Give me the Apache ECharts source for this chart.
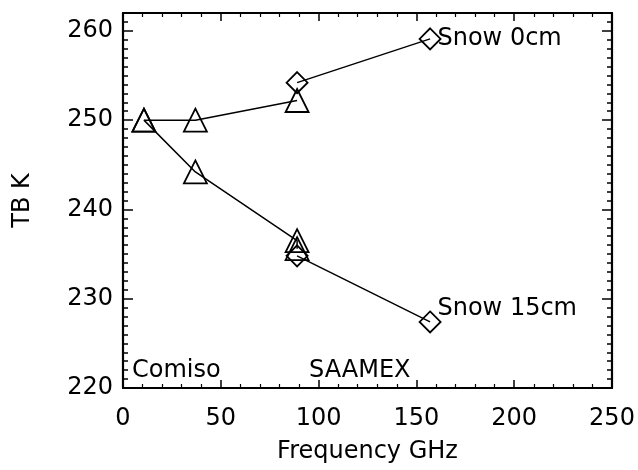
<!DOCTYPE html>
<html><head><meta charset="utf-8">
<script src="https://cdn.jsdelivr.net/npm/echarts@6/dist/echarts.min.js"></script>
<style>html,body{margin:0;padding:0;background:#fff}#c{width:638px;height:470px}</style>
</head><body><div id="c"></div>
<script>
var comiso0 = [[10.7, 250], [37, 250], [89, 252.2]];
var saamex0 = [[89, 254.2], [157, 259.1]];
var comiso15 = [[10.7, 250], [37, 244.2], [89, 236.5], [89, 235.6]];
var saamex15 = [[89, 234.8], [157, 227.4]];
var xName = 'Frequency GHz';
var yName = 'TB K';
var label0 = 'Snow 0cm';
var label15 = 'Snow 15cm';
var note1 = 'Comiso';
var note2 = 'SAAMEX';

var FONT = 'DejaVu Sans';
var FS = 24;
var chart = echarts.init(document.getElementById('c'));
function xAx(pos, show) {
  return {
    type: 'value', position: pos, min: 0, max: 250, interval: 50,
    name: show ? xName : '', nameLocation: 'middle', nameGap: 52,
    nameTextStyle: {fontFamily: FONT, fontSize: FS, color: '#000'},
    axisLine: {show: true, onZero: false, lineStyle: {color: '#000', width: 2.2}},
    axisTick: {show: true, inside: true, length: 8, lineStyle: {color: '#000', width: 1.5}},
    minorTick: {show: true, splitNumber: 5, length: 4, lineStyle: {color: '#000', width: 1.2}},
    axisLabel: {show: show, margin: 19, fontFamily: FONT, fontSize: FS, color: '#000'},
    splitLine: {show: false}, minorSplitLine: {show: false}
  };
}
function yAx(pos, major, show) {
  return {
    type: 'value', position: pos, min: 220, max: 262, interval: major ? 10 : 1,
    name: show ? yName : '', nameLocation: 'middle', nameGap: 88,
    nameTextStyle: {fontFamily: FONT, fontSize: FS, color: '#000'},
    axisLine: {show: major, onZero: false, lineStyle: {color: '#000', width: 2.2}},
    axisTick: {show: true, inside: true, length: major ? 10 : 5, lineStyle: {color: '#000', width: 1.5}},
    axisLabel: {show: show, margin: 10, fontFamily: FONT, fontSize: FS, color: '#000',
      formatter: function (v) { return v % 10 === 0 ? String(v) : ''; }},
    splitLine: {show: false}
  };
}
function ser(data, sym, size, labelText, labelOffset) {
  var n = data.length;
  return {
    type: 'line', data: data.map(function (d, i) {
      var o = {value: d};
      if (labelText && i === n - 1) {
        o.label = {show: true, position: 'right', distance: -4, offset: labelOffset,
          formatter: labelText, fontFamily: FONT, fontSize: FS, color: '#000'};
      }
      return o;
    }),
    xAxisIndex: 0, yAxisIndex: 0,
    symbol: sym, symbolSize: size, showAllSymbol: true,
    lineStyle: {color: '#000', width: 1.5},
    itemStyle: {color: 'rgba(0,0,0,0)', borderColor: '#000', borderWidth: 1.8},
    emphasis: {disabled: true}, animation: false, z: 3
  };
}
chart.setOption({
  animation: false,
  backgroundColor: '#fff',
  grid: {left: 123, right: 26, top: 13, bottom: 82, containLabel: false},
  xAxis: [xAx('bottom', true), xAx('top', false)],
  yAxis: [yAx('left', true, true), yAx('left', false, false), yAx('right', true, false), yAx('right', false, false)],
  graphic: [
    {type: 'text', left: 132, top: 359, style: {text: note1, font: FS + 'px "DejaVu Sans"', fill: '#000'}},
    {type: 'text', left: 309, top: 359, style: {text: note2, font: FS + 'px "DejaVu Sans"', fill: '#000'}}
  ],
  series: [
    ser(comiso0, 'triangle', 23),
    ser(saamex0, 'diamond', 21, label0, [0, 0]),
    ser(comiso15, 'triangle', 23),
    ser(saamex15, 'diamond', 21, label15, [0, -13])
  ]
});
</script></body></html>
